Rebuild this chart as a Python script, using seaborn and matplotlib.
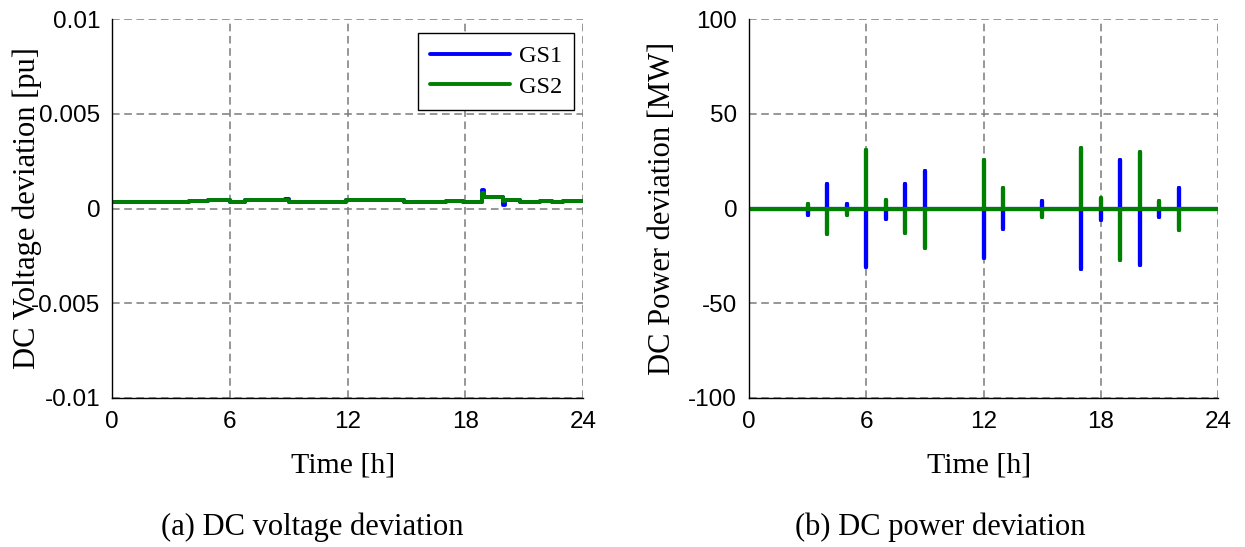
import numpy as np
import pandas as pd
import matplotlib
matplotlib.use("Agg")
import matplotlib.pyplot as plt
import seaborn as sns

# ---- data ----
# (a) DC voltage deviation, step profile, values in pu
volt_time = [0, 3.9, 4.4, 4.9, 6.0, 6.8, 8.8, 9.0, 11.9, 14.9, 17.0, 17.9,
             18.85, 18.95, 19.9, 20.0, 20.8, 21.8, 22.4, 23.0, 23.5, 24]
volt_gs2 = [3.5e-4, 4.2e-4, 3.7e-4, 4.3e-4, 3.5e-4, 4.3e-4, 4.5e-4, 3.5e-4, 4.3e-4,
            3.5e-4, 4.2e-4, 3.6e-4, 8.3e-4, 6.0e-4, 4.0e-4, 4.3e-4, 3.5e-4,
            4.2e-4, 3.6e-4, 4.2e-4, 4.2e-4, 4.2e-4]
volt_gs1 = [3.5e-4, 4.2e-4, 3.7e-4, 4.3e-4, 3.5e-4, 4.3e-4, 5.0e-4, 3.5e-4, 4.3e-4,
            3.5e-4, 4.2e-4, 3.6e-4, 9.5e-4, 6.0e-4, 1.7e-4, 4.3e-4, 3.5e-4,
            4.2e-4, 3.6e-4, 4.2e-4, 4.2e-4, 4.2e-4]

# (b) DC power deviation spikes, MW
spike_hours = [3, 4, 5, 6, 7, 8, 9, 12, 13, 15, 17, 18, 19, 20, 21, 22]
power_gs1 = [-3.3, 13, 2.5, -31, -5.5, 13, 20, -26, -10.7, 3.7, -31.7, -6.3, 25.6, -29.7, -4.6, 10.7]
power_gs2 = [2.5, -13.7, -3.3, 31, 4.5, -13, -21, 25.6, 10.7, -4.6, 31.7, 5.4, -27, 29.7, 3.7, -11.6]

hour_ticks = [0, 6, 12, 18, 24]
volt_ticks = [-0.01, -0.005, 0, 0.005, 0.01]
volt_tick_labels = ["-0.01", "-0.005", "0", "0.005", "0.01"]
power_ticks = [-100, -50, 0, 50, 100]
power_tick_labels = ["-100", "-50", "0", "50", "100"]

BLUE = "#0000ff"
GREEN = "#008000"


def spike_series(hours, amps):
    # each spike is drawn as a vertical excursion from zero and back
    t, v = [0.0], [0.0]
    for h, a in zip(hours, amps):
        t += [h, h, h]
        v += [0.0, a, 0.0]
    t.append(24.0)
    v.append(0.0)
    return pd.DataFrame({"t": t, "v": v})


sns.set_style("white")
plt.rcParams["font.family"] = ["Liberation Serif", "DejaVu Serif"]
plt.rcParams["axes.unicode_minus"] = False
plt.rcParams["text.color"] = "black"
plt.rcParams["axes.labelcolor"] = "black"
plt.rcParams["xtick.color"] = "black"
plt.rcParams["ytick.color"] = "black"

fig = plt.figure(figsize=(12.45, 5.47), dpi=100)
W, H = 1245, 547
ax1 = fig.add_axes([112 / W, (H - 398) / H, 471 / W, 379 / H])
ax2 = fig.add_axes([749 / W, (H - 398) / H, 469 / W, 379 / H])

volt = pd.DataFrame({"t": volt_time, "gs1": volt_gs1, "gs2": volt_gs2})
sns.lineplot(data=volt, x="t", y="gs1", ax=ax1, color=BLUE, lw=2.8,
             estimator=None, drawstyle="steps-post", label="GS1")
sns.lineplot(data=volt, x="t", y="gs2", ax=ax1, color=GREEN, lw=2.8,
             estimator=None, drawstyle="steps-post", label="GS2")

p1 = spike_series(spike_hours, power_gs1)
p2 = spike_series(spike_hours, power_gs2)
sns.lineplot(data=p1, x="t", y="v", ax=ax2, color=BLUE, lw=3,
             estimator=None, sort=False)
sns.lineplot(data=p2, x="t", y="v", ax=ax2, color=GREEN, lw=3,
             estimator=None, sort=False)

tick_font = {"family": "Liberation Sans", "size": 17.5}
for ax, yt, ytl, ylab, lim in [
        (ax1, volt_ticks, volt_tick_labels, "DC Voltage deviation [pu]", (-0.01, 0.01)),
        (ax2, power_ticks, power_tick_labels, "DC Power deviation [MW]", (-100, 100))]:
    ax.set_xlim(0, 24)
    ax.set_ylim(*lim)
    ax.set_xticks(hour_ticks)
    ax.set_xticklabels([str(h) for h in hour_ticks], fontdict=tick_font)
    ax.set_yticks(yt)
    ax.set_yticklabels(ytl, fontdict=tick_font)
    ax.set_axisbelow(True)
    ax.grid(True, color="#7a7a7a", linestyle=(0, (5, 3)), linewidth=1.1)
    for s in ["top", "right"]:
        ax.spines[s].set_visible(False)
    for s in ["left", "bottom"]:
        ax.spines[s].set_color("black")
        ax.spines[s].set_linewidth(1)
    ax.tick_params(direction="in", length=5, width=0.8, color="black")
    ax.tick_params(axis="y", pad=8.5)
    ax.tick_params(axis="x", pad=9)
    ax.set_xlabel("Time [h]", fontsize=21.5)
    ax.set_ylabel(ylab, fontsize=22)
    ax.xaxis.set_label_coords(0.49, -0.145)

ax1.yaxis.set_label_coords(-0.149, 0.5)
ax2.yaxis.set_label_coords(-0.1535, 0.5)

leg = ax1.legend(loc="upper right", bbox_to_anchor=(0.981, 0.963), borderaxespad=0,
                 fontsize=17.5, fancybox=False, framealpha=1, edgecolor="black",
                 handlelength=3.3, handletextpad=0.35, labelspacing=0.35, borderpad=0.5)
leg.get_frame().set_linewidth(1)

fig.text(312 / W, 1 - 527 / H, "(a) DC voltage deviation", fontsize=22,
         ha="center", va="center")
fig.text(940 / W, 1 - 527 / H, "(b) DC power deviation", fontsize=22,
         ha="center", va="center")

fig.savefig("out.png", dpi=100)
